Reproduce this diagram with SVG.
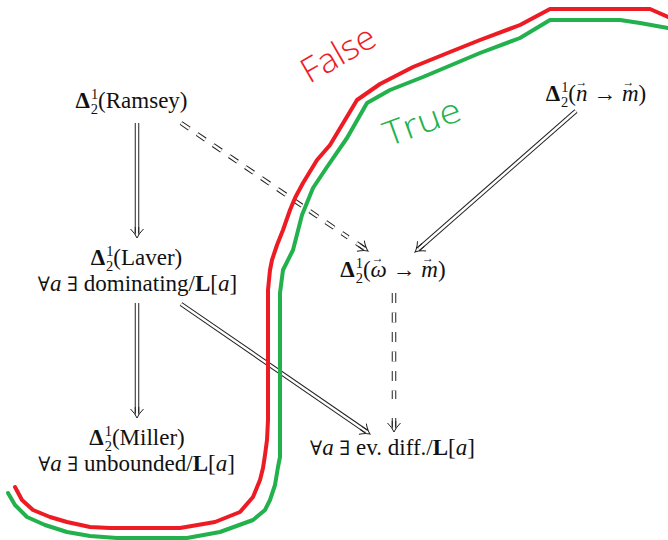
<svg xmlns="http://www.w3.org/2000/svg" width="668" height="540" viewBox="0 0 668 540">
<style>
.m{font-family:"Liberation Serif","DejaVu Serif",serif;font-size:23px;fill:#111;text-anchor:middle}
.q{font-family:"DejaVu Serif",serif;font-size:20px}
.b{font-weight:bold}
.s{font-size:14.5px}
.i{font-style:italic}
.acc{font-size:12px;font-style:normal}
.o{fill:none;stroke:#222;stroke-width:4.5}
.w{fill:none;stroke:#fff;stroke-width:2.5;marker-end:url(#h)}
.wn{fill:none;stroke:#fff;stroke-width:2.5}
.d{stroke-dasharray:10 9.5}
.red{fill:none;stroke:#ED1C24;stroke-width:4;stroke-linejoin:round;stroke-linecap:round}
.grn{fill:none;stroke:#22B14C;stroke-width:4;stroke-linejoin:round;stroke-linecap:round}
.hand{font-family:"Open Sans","DejaVu Sans",sans-serif;font-weight:300;font-size:34px}
</style>
<defs>
<marker id="h" markerUnits="userSpaceOnUse" orient="auto" overflow="visible" markerWidth="20" markerHeight="20" refX="0" refY="0">
<path d="M-6,-1.75 H1.5 M-6,1.75 H1.5 M-4,-6.5 Q1,-1.5 5,0 Q1,1.5 -4,6.5" fill="none" stroke="#222" stroke-width="1"/>
</marker>
</defs>
<rect width="668" height="540" fill="#fff"/>

<g id="connectors">
<path class="o" d="M137,123 V233"/><path class="w" d="M137,123 V233"/>
<path class="o" d="M137,303 V413"/><path class="w" d="M137,303 V413"/>
<path class="o" d="M576,111 L418.8,248.7"/><path class="w" d="M576,111 L418.8,248.7"/>
<path class="o" d="M181,304 L365.9,431.2"/><path class="w" d="M181,304 L365.9,431.2"/>
<path class="o d" d="M181,123 L348.2,237.4"/><path class="wn d" d="M181,123 L348.2,237.4"/>
<path class="o" d="M356.5,243.1 L363.9,248.2"/><path class="w" d="M356.5,243.1 L363.9,248.2"/>
<path class="o d" d="M394,293 V399"/><path class="wn d" d="M394,293 V399"/>
<path class="o" d="M394,418 V427"/><path class="w" d="M394,418 V427"/>
</g>

<g id="node-ramsey"><text class="m" x="131.5" y="108"><tspan class="b">Δ</tspan><tspan class="s" dx="1" dy="-9">1</tspan><tspan class="s" dx="-7.3" dy="15">2</tspan><tspan dy="-6">(Ramsey)</tspan></text></g>
<g id="node-laver">
<text class="m" x="136.5" y="265"><tspan class="b">Δ</tspan><tspan class="s" dx="1" dy="-9">1</tspan><tspan class="s" dx="-7.3" dy="15">2</tspan><tspan dy="-6">(Laver)</tspan></text>
<text class="m" x="137.5" y="291"><tspan class="q">∀</tspan><tspan class="i">a</tspan> <tspan class="q">∃</tspan> dominating/<tspan class="b">L</tspan>[<tspan class="i">a</tspan>]</text>
</g>
<g id="node-miller">
<text class="m" x="137" y="445"><tspan class="b">Δ</tspan><tspan class="s" dx="1" dy="-9">1</tspan><tspan class="s" dx="-7.3" dy="15">2</tspan><tspan dy="-6">(Miller)</tspan></text>
<text class="m" x="136.5" y="471"><tspan class="q">∀</tspan><tspan class="i">a</tspan> <tspan class="q">∃</tspan> unbounded/<tspan class="b">L</tspan>[<tspan class="i">a</tspan>]</text>
</g>
<g id="node-omega"><text class="m" x="393" y="277"><tspan class="b">Δ</tspan><tspan class="s" dx="1" dy="-9">1</tspan><tspan class="s" dx="-7.3" dy="15">2</tspan><tspan dy="-6">(</tspan><tspan class="i">ω</tspan><tspan class="acc" dx="-15" dy="-15">→</tspan><tspan dx="3" dy="15"> → </tspan><tspan class="i">m</tspan><tspan class="acc" dx="-16" dy="-15">→</tspan><tspan dx="4" dy="15">)</tspan></text></g>
<g id="node-n"><text class="m" x="596" y="101"><tspan class="b">Δ</tspan><tspan class="s" dx="1" dy="-9">1</tspan><tspan class="s" dx="-7.3" dy="15">2</tspan><tspan dy="-6">(</tspan><tspan class="i">n</tspan><tspan class="acc" dx="-12" dy="-15">→</tspan><tspan dx="0" dy="15"> → </tspan><tspan class="i">m</tspan><tspan class="acc" dx="-16" dy="-15">→</tspan><tspan dx="4" dy="15">)</tspan></text></g>
<g id="node-evdiff"><text class="m" x="392.5" y="455"><tspan class="q">∀</tspan><tspan class="i">a</tspan> <tspan class="q">∃</tspan> ev. diff./<tspan class="b">L</tspan>[<tspan class="i">a</tspan>]</text></g>

<path class="red" d="M15,487 L22,500 L33,510 L50,517 L67,522 L90,527 L110,528 L180,528 L215,522 L240,512 L253,497 L260,480 L263,468 L265,455 L267,440 L268,420 L268,290 L270,270 L272,260 L277,245 L283,230 L290,210 L295,198 L303,183 L317,160 L330,145 L345,120 L357,100 L380,84 L413,67 L450,52 L480,40 L520,25 L550,9 L650,9 L668,17"/>
<path class="grn" d="M8,493 L15,505 L27,517 L45,525 L67,532 L90,536 L117,538 L187,538 L220,532 L253,520 L265,510 L270,500 L275,485 L278,467 L280,457 L280,293 L283,270 L293,250 L302,215 L313,188 L327,167 L347,138 L367,103 L390,90 L423,77 L480,53 L520,38 L550,20 L620,20 L640,23 L668,28"/>
<text class="hand" fill="#ED1C24" transform="translate(344,64) rotate(-30)" text-anchor="middle" textLength="80" lengthAdjust="spacingAndGlyphs">False</text>
<text class="hand" fill="#22B14C" transform="translate(426,133) rotate(-20)" text-anchor="middle" textLength="80" lengthAdjust="spacingAndGlyphs">True</text>
</svg>
